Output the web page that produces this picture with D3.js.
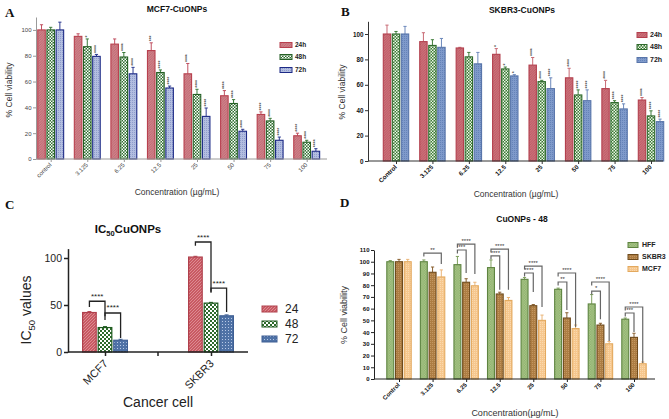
<!DOCTYPE html>
<html><head><meta charset="utf-8">
<script src="https://cdn.jsdelivr.net/npm/d3@7"></script>
<style>body{margin:0;background:#fff}svg{display:block;font-family:"Liberation Sans",Arial,sans-serif}</style>
</head><body><svg id="c" width="669" height="419"></svg>
<script>
// ---------- DATA ----------
const concA = ["control","3.125","6.25","12.5","25","50","75","100"];
const timesA = ["24h","48h","72h"];
const mcf7_24 = [100,95,89,84,66,49,34.5,18];
const mcf7_24err = [4,2,4,6,8,4,2,2];
const mcf7_48 = [100,87,79,67,50,43,29.5,13];
const mcf7_48err = [2,6,3.5,2,4,3,2,1.5];
const mcf7_72 = [100,79.5,66,55,33,21.5,14.5,6];
const mcf7_72err = [6,1.5,5,1.5,6.5,1.5,2.5,2];
const sigA_24 = ["","","","***","****","****","****","****"];
const sigA_48 = ["","*","****","****","****","****","****","****"];
const sigA_72 = ["","****","****","****","****","****","****","****"];

const concB = ["Control","3.125","6.25","12.5","25","50","75","100"];
const timesB = ["24h","48h","72h"];
const skbr3_24 = [100,94,89,84,75.5,65.5,57,48];
const skbr3_24err = [7,7,0.5,4.5,6,7.5,6.5,2];
const skbr3_48 = [100,91,82,72.5,62.5,52,46,35.5];
const skbr3_48err = [2,4.5,3.5,1.5,1,4,1.5,4];
const skbr3_72 = [100,89.5,76.5,67,57,47.5,41,31];
const skbr3_72err = [6,7,9,1,8.5,8.5,4,2];
const sigB_24 = ["","","","*","****","****","****","****"];
const sigB_48 = ["","","","*","****","****","****","****"];
const sigB_72 = ["","","","*","****","****","****","****"];

const cellsC = ["MCF7","SKBR3"];
const timesC = ["24","48","72"];
const ic50_24 = [42,101];
const ic50_48 = [26,52];
const ic50_72 = [12.5,38.5];
const ic50_24err = [1,0.8];
const ic50_48err = [1,0.8];
const ic50_72err = [1,1];
const brC_cell = ["MCF7","MCF7","SKBR3","SKBR3"];
const brC_from = ["24","48","24","48"];
const brC_to = ["48","72","48","72"];
const brC_label = ["****","****","****","****"];
const brC_level = [54,41.5,117,68];
const brC_leftEnd = [48,38,113,63];
const brC_rightEnd = [34,15,64,42.5];

const concD = ["Control","3.125","6.25","12.5","25","50","75","100"];
const linesD = ["HFF","SKBR3","MCF7"];
const hff48 = [100,100,97.5,95,85,76.5,64,51];
const hff48err = [1,1.5,7,6.5,1.5,1,8,1];
const skbr48 = [100,91,82.5,72.5,62.5,52,46,35.5];
const skbr48err = [2,4.5,3,1.5,1,4.5,1.5,3.5];
const mcf48 = [100,87,79.5,67,50,43,30,13];
const mcf48err = [2,6,3,2.5,4.5,3,2,1.5];
const brD_cat = ["3.125","6.25","6.25","12.5","12.5","25","25","50","50","75","75","100","100"];
const brD_to = ["MCF7","SKBR3","MCF7","SKBR3","MCF7","SKBR3","MCF7","SKBR3","MCF7","SKBR3","MCF7","SKBR3","MCF7"];
const brD_label = ["**","***","****","****","****","****","****","**","****","*","****","***","****"];
const brD_level = [107.4,110,115,105,110.8,90.4,96.3,82.7,90.4,75,82.7,56.3,61.4];
const brD_end = [98,90.4,89.5,76,76,74.2,61.4,58.8,44.3,51,32.4,40,13.6];

const yTicksA = [0,20,40,60,80,100];
const yTicksC = [0,50,100];
const yTicksD = [0,10,20,30,40,50,60,70,80,90,100,110];

// ---------- SETUP ----------
const svg = d3.select("#c");
const defs = svg.append("defs");
function pat(id, bg, fg, type, size){
  const p = defs.append("pattern").attr("id",id).attr("patternUnits","userSpaceOnUse")
    .attr("width",size).attr("height",size);
  p.append("rect").attr("width",size).attr("height",size).attr("fill",bg);
  const h = size/2;
  if(type==="check"){
    p.append("rect").attr("width",h).attr("height",h).attr("fill",fg);
    p.append("rect").attr("x",h).attr("y",h).attr("width",h).attr("height",h).attr("fill",fg);
  } else if(type==="dots"){
    p.append("rect").attr("width",1).attr("height",1).attr("fill",fg);
  } else if(type==="hatch"){
    p.append("path").attr("d",`M0,${size}L${size},0`).attr("stroke",fg).attr("stroke-width",0.7);
  }
}
pat("pRedA","#cf8189","#b9606b","hatch",2.5);
pat("pGreenA","#2f6f2f","#ffffff","check",3);
pat("pBlueA","#b3bee0","#8f9dcc","dots",2);
pat("pRedB","#cc7079","#b5535e","hatch",2.5);
pat("pGreenB","#3a7a34","#eef5e8","check",3);
pat("pBlueB","#7f9acb","#6583b8","dots",2);
pat("pRedC","#c85a63","#e6a0a6","hatch",3);
pat("pGreenC","#2d6a2b","#ffffff","check",4);
pat("pBlueC","#4f72a6","#b7c8e6","dots",3);
pat("pGreenD","#8fb16c","#a9c68a","check",2.5);
pat("pBrownD","#ad7d43","#c39660","dots",2);
pat("pTanD","#f6c78e","#fbd9ad","dots",2);

function barPanel(cfg){
  const g = svg.append("g");
  const x = d3.scalePoint().domain(cfg.cats).range(cfg.centers);
  const xs = d3.scaleBand().domain(cfg.series).range([-cfg.groupW/2, cfg.groupW/2]).paddingInner(cfg.pad);
  const y = d3.scaleLinear().domain([0,110]).range(cfg.yRange);
  const bw = xs.bandwidth();
  cfg.series.forEach((s,si)=>{
    const vals = cfg.vals[si], errs = cfg.errs[si];
    const gs = g.append("g");
    // error bars
    cfg.cats.forEach((c,i)=>{
      const cx = x(c)+xs(s)+bw/2;
      gs.append("line").attr("x1",cx).attr("x2",cx).attr("y1",y(vals[i])).attr("y2",y(vals[i]+errs[i]))
        .attr("stroke",cfg.errColors[si]).attr("stroke-width",1);
      gs.append("line").attr("x1",cx-1.6).attr("x2",cx+1.6).attr("y1",y(vals[i]+errs[i])).attr("y2",y(vals[i]+errs[i]))
        .attr("stroke",cfg.errColors[si]).attr("stroke-width",1);
    });
    gs.selectAll("rect").data(cfg.cats).join("rect")
      .attr("x", c => x(c)+xs(s)+cfg.sw/2).attr("width", bw-cfg.sw)
      .attr("y", (c,i)=>y(vals[i])).attr("height",(c,i)=>y(0)-y(vals[i]))
      .attr("fill", `url(#${cfg.pats[si]})`).attr("stroke", cfg.strokes[si]).attr("stroke-width", cfg.sw);
    if(cfg.sigs){
      cfg.cats.forEach((c,i)=>{
        const t = cfg.sigs[si][i]; if(!t) return;
        const cx = x(c)+xs(s)+bw/2, ty = y(vals[i]+errs[i])-1.5;
        gs.append("text").attr("transform",`translate(${cx+1.6},${ty}) rotate(-90)`)
          .attr("font-size",5).attr("fill","#555").attr("font-weight","bold").text(t);
      });
    }
  });
  // y axis
  const ya = g.append("g").attr("transform",`translate(${cfg.axisX[0]},0)`)
    .call(d3.axisLeft(y).tickValues(cfg.yTicks).tickSize(cfg.tickLen).tickSizeOuter(0).tickPadding(1.5));
  ya.select(".domain").attr("stroke",cfg.axisColor).attr("stroke-width",cfg.axisW);
  ya.selectAll(".tick line").attr("stroke",cfg.axisColor).attr("stroke-width",cfg.axisW);
  ya.selectAll(".tick text").attr("font-size",cfg.tickFont).attr("font-weight",cfg.tickWeight)
    .attr("fill",cfg.tickColor).attr("font-family","Liberation Sans, Arial, sans-serif");
  // x axis
  const xa = g.append("g").attr("transform",`translate(0,${y(0)})`)
    .call(d3.axisBottom(x).tickSize(cfg.tickLen).tickSizeOuter(0).tickPadding(1));
  xa.select(".domain").remove();
  xa.append("line").attr("x1",cfg.axisX[0]).attr("x2",cfg.axisX[1]).attr("stroke",cfg.axisColor).attr("stroke-width",cfg.axisW);
  xa.selectAll(".tick line").attr("stroke",cfg.axisColor).attr("stroke-width",cfg.axisW);
  xa.selectAll(".tick text").attr("font-size",cfg.tickFont).attr("font-weight",cfg.tickWeight)
    .attr("fill",cfg.tickColor).attr("font-family","Liberation Sans, Arial, sans-serif")
    .attr("text-anchor","end").attr("dy","0.35em").attr("dx","-0.2em")
    .attr("transform",`translate(0,${cfg.tickLen+1}) rotate(-45)`).attr("y",0).attr("x",0);
  // titles
  g.append("text").attr("x",cfg.titlePos[0]).attr("y",cfg.titlePos[1]).attr("text-anchor","middle")
    .attr("font-weight","bold").attr("font-size",cfg.titleSize).attr("fill","#111").text(cfg.title);
  g.append("text").attr("x",cfg.xlabPos[0]).attr("y",cfg.xlabPos[1]).attr("text-anchor","middle")
    .attr("font-size",cfg.labSize).attr("fill","#333").text(cfg.xlab);
  g.append("text").attr("transform",`translate(${cfg.ylabPos[0]},${cfg.ylabPos[1]}) rotate(-90)`).attr("text-anchor","middle")
    .attr("font-size",cfg.labSize).attr("fill","#333").text(cfg.ylab);
  // legend
  cfg.series.forEach((s,si)=>{
    const ly = cfg.legY[si];
    g.append("rect").attr("x",cfg.legX).attr("y",ly-2.5).attr("width",cfg.legW).attr("height",5)
      .attr("fill",`url(#${cfg.pats[si]})`).attr("stroke",cfg.strokes[si]).attr("stroke-width",1);
    g.append("text").attr("x",cfg.legX+cfg.legW+cfg.legGap).attr("y",ly).attr("dy","0.35em")
      .attr("font-size",cfg.legFont).attr("font-weight","bold").attr("fill","#222").text(s);
  });
  return {g,x,xs,y};
}

function letter(t,xp,yp){
  svg.append("text").attr("x",xp).attr("y",yp).attr("font-family","Liberation Serif, Times New Roman, serif")
    .attr("font-weight","bold").attr("font-size",13).attr("fill","#111").text(t);
}

// ---------- PANEL A ----------
barPanel({cats:concA, series:timesA, vals:[mcf7_24,mcf7_48,mcf7_72], errs:[mcf7_24err,mcf7_48err,mcf7_72err],
  sigs:[sigA_24,sigA_48,sigA_72], centers:[50.7,306.7], groupW:27, pad:0.06, yRange:[159,17],
  axisX:[36,327], yTicks:yTicksA, tickLen:3, axisColor:"#9a9a9a", axisW:1, tickFont:6, tickWeight:"normal", tickColor:"#444",
  pats:["pRedA","pGreenA","pBlueA"], strokes:["#b8404e","#245f24","#1c2a86"], errColors:["#c05060","#3a7a3a","#2c3a90"], sw:1.1,
  title:"MCF7-CuONPs", titlePos:[177,12], titleSize:8.5, xlab:"Concentration (µg/mL)", xlabPos:[177,195], labSize:8.5,
  ylab:"% Cell viability", ylabPos:[12,90], legX:280, legW:12, legGap:3, legY:[45,57,70], legFont:6.5});
letter("A",5,17);

// ---------- PANEL B ----------
barPanel({cats:concB, series:timesB, vals:[skbr3_24,skbr3_48,skbr3_72], errs:[skbr3_24err,skbr3_48err,skbr3_72err],
  sigs:[sigB_24,sigB_48,sigB_72], centers:[396,651], groupW:26.5, pad:0.06, yRange:[161,21.3],
  axisX:[368,663], yTicks:yTicksA, tickLen:3, axisColor:"#333", axisW:1, tickFont:6.3, tickWeight:"bold", tickColor:"#111",
  pats:["pRedB","pGreenB","pBlueB"], strokes:["#b3404e","#2f6a2c","#5875aa"], errColors:["#c86a74","#3f7d3a","#6c88bb"], sw:1.1,
  title:"SKBR3-CuONPs", titlePos:[522,13], titleSize:8.5, xlab:"Concentration (µg/mL)", xlabPos:[516,197], labSize:8.5,
  ylab:"% Cell viability", ylabPos:[345,92], legX:637, legW:10, legGap:3, legY:[35,47,60], legFont:7});
letter("B",341,16);

// ---------- PANEL C ----------
(function(){
  const g = svg.append("g");
  const x = d3.scalePoint().domain(cellsC).range([105,211]);
  const xs = d3.scaleBand().domain(timesC).range([-23,23]).paddingInner(0.05);
  const y = d3.scaleLinear().domain([0,110]).range([352,248.6]);
  const bw = xs.bandwidth();
  const vals = [ic50_24,ic50_48,ic50_72], errs=[ic50_24err,ic50_48err,ic50_72err];
  const pats = ["pRedC","pGreenC","pBlueC"], strokes=["#b0404c","#1f5a1f","#3f5f94"];
  timesC.forEach((s,si)=>{
    cellsC.forEach((c,i)=>{
      const cx = x(c)+xs(s)+bw/2;
      g.append("line").attr("x1",cx).attr("x2",cx).attr("y1",y(vals[si][i])).attr("y2",y(vals[si][i]+errs[si][i])).attr("stroke",strokes[si]);
      g.append("line").attr("x1",cx-2).attr("x2",cx+2).attr("y1",y(vals[si][i]+errs[si][i])).attr("y2",y(vals[si][i]+errs[si][i])).attr("stroke",strokes[si]);
    });
    g.selectAll(null).data(cellsC).join("rect")
      .attr("x",c=>x(c)+xs(s)+0.6).attr("width",bw-1.2)
      .attr("y",(c,i)=>y(vals[si][i])).attr("height",(c,i)=>y(0)-y(vals[si][i]))
      .attr("fill",`url(#${pats[si]})`).attr("stroke",strokes[si]).attr("stroke-width",1.2);
  });
  // brackets
  brC_cell.forEach((c,i)=>{
    const x1 = x(c)+xs(brC_from[i])+bw/2, x2 = x(c)+xs(brC_to[i])+bw/2;
    const yl = y(brC_level[i]);
    g.append("path").attr("d",`M${x1},${y(brC_leftEnd[i])}V${yl}H${x2}V${y(brC_rightEnd[i])}`)
      .attr("fill","none").attr("stroke","#222").attr("stroke-width",1.3);
    g.append("text").attr("x",(x1+x2)/2).attr("y",yl-2.5).attr("text-anchor","middle")
      .attr("font-size",8).attr("fill","#222").text(brC_label[i]);
  });
  const ya = g.append("g").attr("transform","translate(68,0)")
    .call(d3.axisLeft(y).tickValues(yTicksC).tickSize(4).tickSizeOuter(0).tickPadding(2));
  ya.select(".domain").attr("stroke","#222").attr("stroke-width",1.5);
  ya.selectAll(".tick line").attr("stroke","#222").attr("stroke-width",1.5);
  ya.selectAll(".tick text").attr("font-size",10.5).attr("fill","#222").attr("font-family","Liberation Sans, Arial, sans-serif");
  const xa = g.append("g").attr("transform",`translate(0,${y(0)})`)
    .call(d3.axisBottom(x).tickSize(4).tickSizeOuter(0).tickPadding(1));
  xa.select(".domain").remove();
  xa.append("line").attr("x1",68).attr("x2",248).attr("stroke","#222").attr("stroke-width",1.5);
  xa.append("line").attr("x1",(x(cellsC[0])+x(cellsC[1]))/2).attr("x2",(x(cellsC[0])+x(cellsC[1]))/2).attr("y2",4).attr("stroke","#222").attr("stroke-width",1.5);
  xa.selectAll(".tick line").attr("stroke","#222").attr("stroke-width",1.5);
  xa.selectAll(".tick text").attr("font-size",11).attr("fill","#222").attr("font-family","Liberation Sans, Arial, sans-serif")
    .attr("text-anchor","end").attr("dy","0.35em").attr("dx","-0.2em").attr("y",0).attr("x",0)
    .attr("transform","translate(2,8) rotate(-45)");
  // title
  const t = g.append("text").attr("x",128).attr("y",233).attr("text-anchor","middle").attr("font-weight","bold").attr("font-size",11.5).attr("fill","#111");
  t.append("tspan").text("IC");
  t.append("tspan").attr("font-size",7.5).attr("dy",3).text("50");
  t.append("tspan").attr("dy",-3).text("CuONPs");
  const yl = g.append("text").attr("transform","translate(31,310) rotate(-90)").attr("text-anchor","middle").attr("font-size",14).attr("fill","#222");
  yl.append("tspan").text("IC");
  yl.append("tspan").attr("font-size",9.5).attr("dy",4).text("50");
  yl.append("tspan").attr("dy",-4).text(" values");
  g.append("text").attr("x",158).attr("y",407).attr("text-anchor","middle").attr("font-size",14).attr("fill","#222").text("Cancer cell");
  timesC.forEach((s,si)=>{
    const ly = [309,324,339][si];
    g.append("rect").attr("x",262).attr("y",ly-3).attr("width",15).attr("height",6)
      .attr("fill",`url(#${pats[si]})`).attr("stroke",strokes[si]).attr("stroke-width",1);
    g.append("text").attr("x",285).attr("y",ly).attr("dy","0.35em").attr("font-size",12).attr("fill","#222").text(s);
  });
})();
letter("C",5,209);

// ---------- PANEL D ----------
(function(){
  const r = barPanel({cats:concD, series:linesD, vals:[hff48,skbr48,mcf48], errs:[hff48err,skbr48err,mcf48err],
    sigs:null, centers:[399,634], groupW:25.5, pad:0.08, yRange:[379,250],
    axisX:[374,655], yTicks:yTicksD, tickLen:3, axisColor:"#222", axisW:1, tickFont:6, tickWeight:"bold", tickColor:"#111",
    pats:["pGreenD","pBrownD","pTanD"], strokes:["#5e8440","#6e4a1c","#e3a95e"], errColors:["#7fa05e","#8a6030","#eab578"], sw:1.1,
    title:"CuONPs - 48", titlePos:[522,222], titleSize:8.5, xlab:"Concentration(µg/mL)", xlabPos:[515,416], labSize:9,
    ylab:"% Cell viability", ylabPos:[347,315], legX:628, legW:10, legGap:4, legY:[245,257,269], legFont:7});
  const {g,x,xs,y} = r;
  const bw = xs.bandwidth();
  brD_cat.forEach((c,i)=>{
    const x1 = x(c)+xs(linesD[0])+bw/2, x2 = x(c)+xs(brD_to[i])+bw/2;
    const yl = y(brD_level[i]);
    g.append("path").attr("d",`M${x1},${yl+3.5}V${yl}H${x2}V${y(brD_end[i])}`)
      .attr("fill","none").attr("stroke","#666").attr("stroke-width",1.2);
    g.append("text").attr("x",(x1+x2)/2).attr("y",yl-1.2).attr("text-anchor","middle")
      .attr("font-size",6).attr("fill","#333").text(brD_label[i]);
  });
})();
letter("D",340,207);
</script></body></html>
